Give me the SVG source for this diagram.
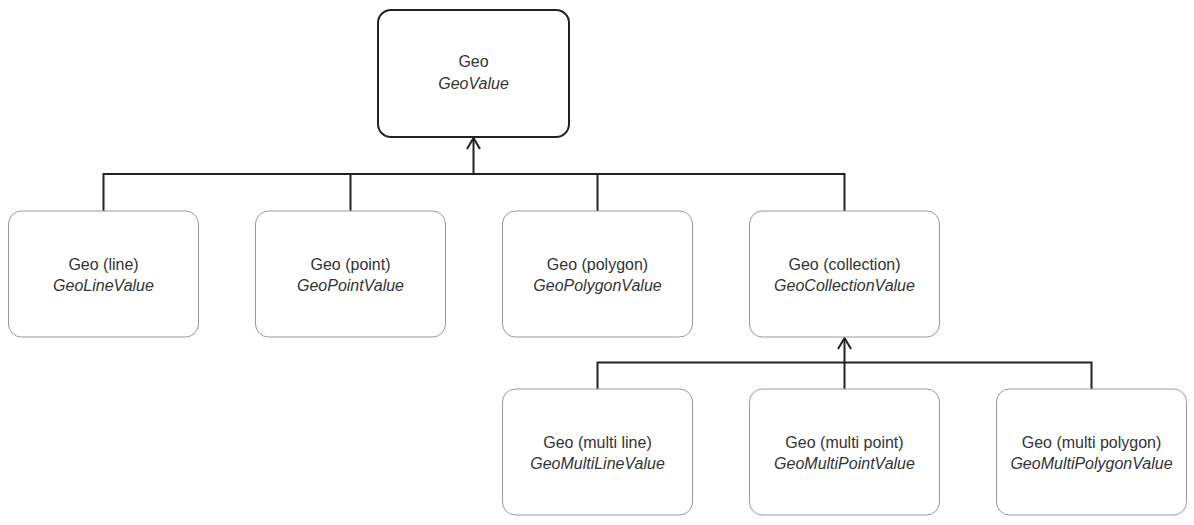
<svg xmlns="http://www.w3.org/2000/svg" width="1194" height="525" viewBox="0 0 1194 525">
<style>
.root{fill:#fff;stroke:#222;stroke-width:2}
.box{fill:#fff;stroke:#999;stroke-width:1}
.t{font-family:"Liberation Sans",Arial,sans-serif;font-size:16px;fill:#333;text-anchor:middle}
.i{font-style:italic}
.c{fill:none;stroke:#222;stroke-width:2}
</style>
<defs>
<marker id="arr" markerUnits="userSpaceOnUse" markerWidth="20" markerHeight="20" refX="14" refY="10" orient="auto" viewBox="0 0 20 20">
<path d="M3,3.5 L14,10 L3,16.5" fill="none" stroke="#222" stroke-width="2"/>
</marker>
</defs>
<rect width="1194" height="525" fill="#fff"/>
<g id="connectors">
<path class="c" d="M103.5,211 V174 H844.5 V211"/>
<path class="c" d="M350.5,211 V174"/>
<path class="c" d="M597.5,211 V174"/>
<path class="c" d="M473.5,174 V138" marker-end="url(#arr)"/>
<path class="c" d="M597.5,389 V362.5 H1091.5 V389"/>
<path class="c" d="M844.5,389 V338" marker-end="url(#arr)"/>
</g>
<g id="geo">
<rect class="root" x="378" y="10" width="191" height="127" rx="13"/>
<text class="t" x="473.5" y="67">Geo</text>
<text class="t i" x="473.5" y="89">GeoValue</text>
</g>
<g id="geo-line">
<rect class="box" x="8.5" y="211" width="190" height="126" rx="13"/>
<text class="t" x="103.5" y="270">Geo (line)</text>
<text class="t i" x="103.5" y="291">GeoLineValue</text>
</g>
<g id="geo-point">
<rect class="box" x="255.5" y="211" width="190" height="126" rx="13"/>
<text class="t" x="350.5" y="270">Geo (point)</text>
<text class="t i" x="350.5" y="291">GeoPointValue</text>
</g>
<g id="geo-polygon">
<rect class="box" x="502.5" y="211" width="190" height="126" rx="13"/>
<text class="t" x="597.5" y="270">Geo (polygon)</text>
<text class="t i" x="597.5" y="291">GeoPolygonValue</text>
</g>
<g id="geo-collection">
<rect class="box" x="749.5" y="211" width="190" height="126" rx="13"/>
<text class="t" x="844.5" y="270">Geo (collection)</text>
<text class="t i" x="844.5" y="291">GeoCollectionValue</text>
</g>
<g id="geo-multi-line">
<rect class="box" x="502.5" y="389" width="190" height="126" rx="13"/>
<text class="t" x="597.5" y="448">Geo (multi line)</text>
<text class="t i" x="597.5" y="469">GeoMultiLineValue</text>
</g>
<g id="geo-multi-point">
<rect class="box" x="749.5" y="389" width="190" height="126" rx="13"/>
<text class="t" x="844.5" y="448">Geo (multi point)</text>
<text class="t i" x="844.5" y="469">GeoMultiPointValue</text>
</g>
<g id="geo-multi-polygon">
<rect class="box" x="996.5" y="389" width="190" height="126" rx="13"/>
<text class="t" x="1091.5" y="448">Geo (multi polygon)</text>
<text class="t i" x="1091.5" y="469">GeoMultiPolygonValue</text>
</g>
</svg>
